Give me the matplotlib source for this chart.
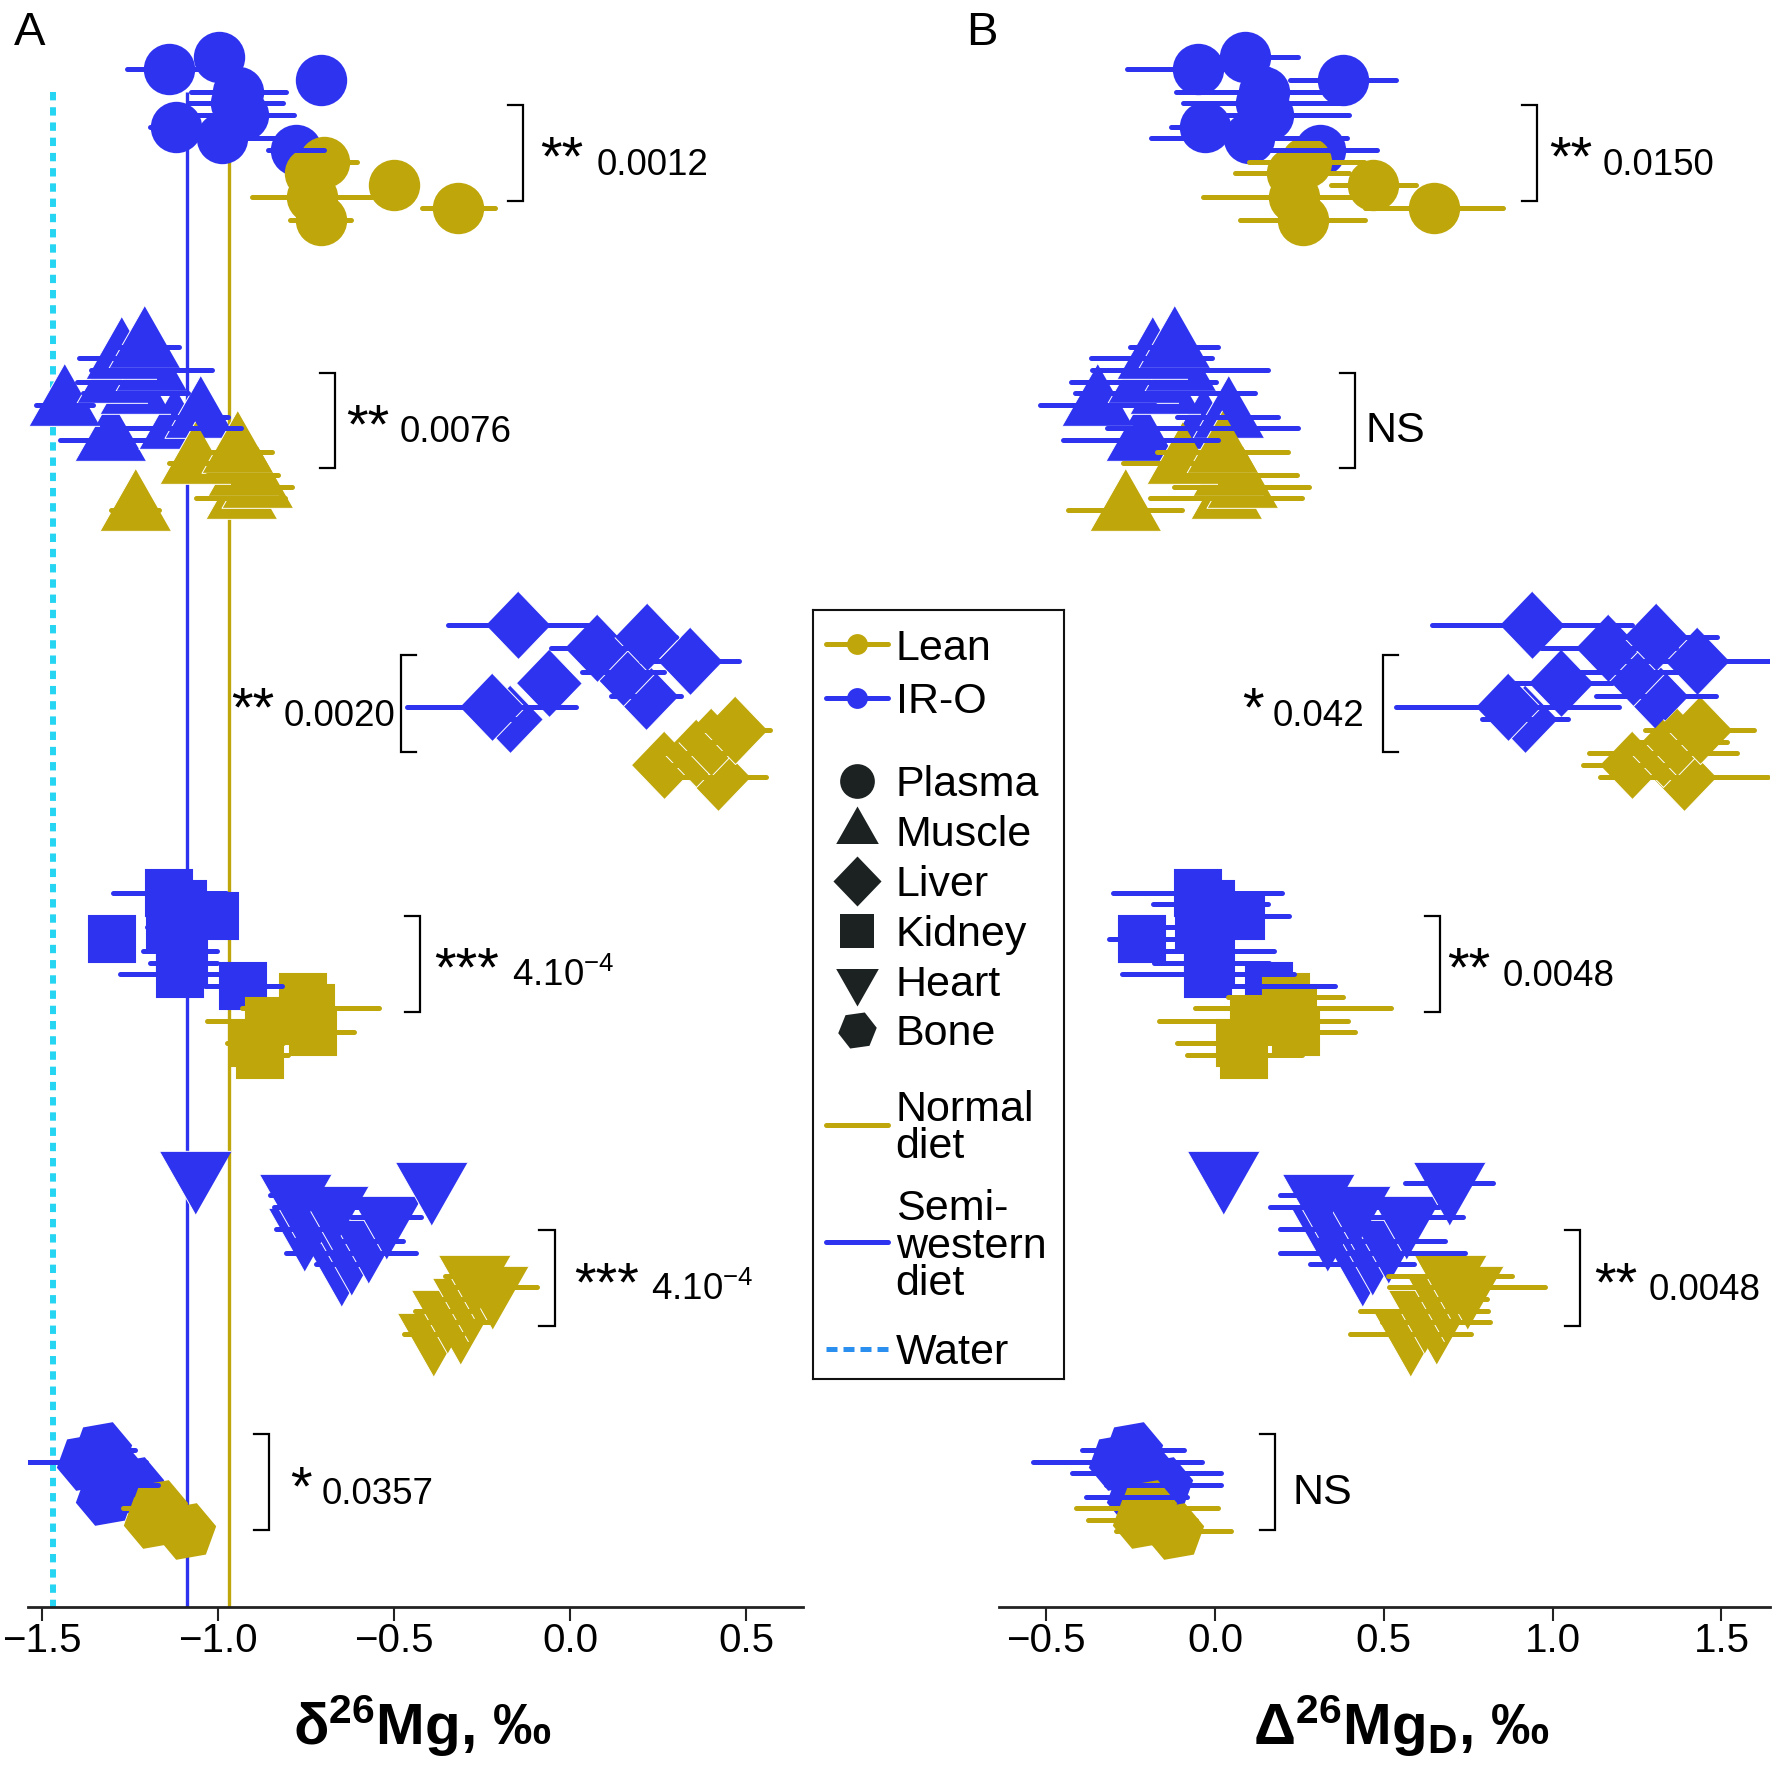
import matplotlib
matplotlib.use('Agg')
import matplotlib.pyplot as plt
from matplotlib.markers import MarkerStyle
from matplotlib.transforms import Affine2D

plt.rcParams['font.family'] = ['Liberation Sans', 'DejaVu Sans']
plt.rcParams['mathtext.fontset'] = 'custom'
plt.rcParams['mathtext.rm'] = 'Liberation Sans'
plt.rcParams['mathtext.bf'] = 'Liberation Sans:bold'
plt.rcParams['mathtext.it'] = 'Liberation Sans:italic'
plt.rcParams['mathtext.default'] = 'regular'

BLUE = '#2E33F0'
GOLD = '#BEA60B'
WATER = '#26D5F2'
WATER_LEG = '#2B8FF0'
DARK = '#1C2121'

# ---------------- data ----------------
semi_western_diet = -1.087   # delta26Mg of semi-western diet
normal_diet = -0.968         # delta26Mg of normal diet
water = -1.468               # delta26Mg of water

# y = row position of each animal (top to bottom)
plasma_iro_y = [57, 69, 80, 92, 103, 115, 127, 138, 150]
plasma_iro_d = [-0.998, -1.138, -0.708, -0.942, -0.950, -0.930, -1.119, -0.988, -0.778]
plasma_iro_de = [0.05, 0.121, 0.05, 0.134, 0.134, 0.147, 0.074, 0.15, 0.079]
plasma_iro_D = [0.089, -0.051, 0.379, 0.145, 0.137, 0.157, -0.030, 0.100, 0.311]
plasma_iro_De = [0.157, 0.21, 0.157, 0.26, 0.232, 0.24, 0.10, 0.29, 0.17]

plasma_lean_y = [162, 173, 185, 197, 208, 220]
plasma_lean_d = [-0.700, -0.740, -0.499, -0.733, -0.317, -0.708]
plasma_lean_de = [0.095, 0.06, 0.06, 0.17, 0.104, 0.087]
plasma_lean_D = [0.270, 0.228, 0.469, 0.235, 0.649, 0.260]
plasma_lean_De = [0.17, 0.17, 0.126, 0.27, 0.205, 0.185]

muscle_iro_y = [347, 358, 370, 382, 393, 405, 417, 428, 440]
muscle_iro_d = [-1.210, -1.275, -1.190, -1.300, -1.235, -1.437, -1.051, -1.126, -1.307]
muscle_iro_de = [0.10, 0.12, 0.172, 0.10, 0.15, 0.081, 0.08, 0.19, 0.142]
muscle_iro_D = [-0.121, -0.188, -0.104, -0.213, -0.148, -0.349, 0.037, -0.037, -0.220]
muscle_iro_De = [0.131, 0.178, 0.26, 0.215, 0.267, 0.17, 0.15, 0.284, 0.23]

muscle_lean_y = [452, 463, 475, 487, 498, 510]
muscle_lean_d = [-0.946, -1.065, -0.930, -0.889, -0.936, -1.235]
muscle_lean_de = [0.098, 0.074, 0.10, 0.10, 0.126, 0.068]
muscle_lean_D = [0.022, -0.097, 0.038, 0.079, 0.032, -0.267]
muscle_lean_De = [0.195, 0.176, 0.205, 0.20, 0.225, 0.168]

liver_iro_y = [625, 637, 648, 661, 672, 683, 696, 707, 719]
liver_iro_d = [-0.147, 0.220, 0.078, 0.341, 0.151, -0.059, 0.216, -0.222, -0.170]
liver_iro_de = [0.20, 0.08, 0.132, 0.14, 0.116, 0.08, 0.10, 0.24, 0.06]
liver_iro_D = [0.940, 1.307, 1.165, 1.427, 1.238, 1.026, 1.306, 0.867, 0.918]
liver_iro_De = [0.296, 0.18, 0.20, 0.22, 0.20, 0.15, 0.178, 0.33, 0.127]

liver_lean_y = [730, 742, 753, 765, 777]
liver_lean_d = [0.468, 0.400, 0.359, 0.267, 0.421]
liver_lean_de = [0.10, 0.08, 0.12, 0.08, 0.137]
liver_lean_D = [1.436, 1.368, 1.327, 1.235, 1.389]
liver_lean_De = [0.162, 0.15, 0.22, 0.146, 0.248]

kidney_iro_y = [893, 904, 916, 927, 939, 951, 963, 974, 986]
kidney_iro_d = [-1.138, -1.100, -1.009, -1.136, -1.302, -1.108, -1.098, -1.108, -0.928]
kidney_iro_de = [0.16, 0.08, 0.05, 0.066, 0.05, 0.104, 0.095, 0.17, 0.11]
kidney_iro_D = [-0.051, -0.013, 0.078, -0.049, -0.215, -0.021, -0.011, -0.021, 0.159]
kidney_iro_De = [0.25, 0.17, 0.14, 0.15, 0.10, 0.195, 0.17, 0.255, 0.195]

kidney_lean_y = [997, 1008, 1021, 1032, 1043, 1055]
kidney_lean_d = [-0.759, -0.737, -0.854, -0.729, -0.895, -0.881]
kidney_lean_de = [0.05, 0.195, 0.176, 0.114, 0.08, 0.08]
kidney_lean_D = [0.209, 0.231, 0.114, 0.239, 0.073, 0.087]
kidney_lean_De = [0.17, 0.29, 0.28, 0.175, 0.185, 0.17]

heart_iro_y = [1172, 1183, 1195, 1207, 1217, 1229, 1241, 1253, 1264]
heart_iro_d = [-1.064, -0.394, -0.782, -0.675, -0.522, -0.755, -0.575, -0.622, -0.652]
heart_iro_de = [0.03, 0.05, 0.07, 0.167, 0.10, 0.08, 0.10, 0.185, 0.07]
heart_iro_D = [0.023, 0.693, 0.305, 0.412, 0.565, 0.332, 0.512, 0.465, 0.435]
heart_iro_De = [0.046, 0.13, 0.114, 0.25, 0.17, 0.14, 0.17, 0.274, 0.153]

heart_lean_y = [1276, 1287, 1299, 1311, 1322, 1334]
heart_lean_d = [-0.272, -0.222, -0.290, -0.350, -0.312, -0.389]
heart_lean_de = [0.082, 0.128, 0.08, 0.09, 0.09, 0.084]
heart_lean_D = [0.696, 0.746, 0.678, 0.618, 0.656, 0.579]
heart_lean_De = [0.185, 0.23, 0.128, 0.19, 0.16, 0.18]

bone_iro_y = [1450, 1462, 1473, 1485, 1497]
bone_iro_d = [-1.330, -1.375, -1.290, -1.240, -1.320]
bone_iro_de = [0.095, 0.17, 0.08, 0.07, 0.06]
bone_iro_D = [-0.243, -0.288, -0.203, -0.153, -0.233]
bone_iro_De = [0.15, 0.25, 0.22, 0.17, 0.15]

bone_lean_y = [1508, 1520, 1531]
bone_lean_d = [-1.170, -1.185, -1.090]
bone_lean_de = [0.10, 0.06, 0.05]
bone_lean_D = [-0.202, -0.217, -0.122]
bone_lean_De = [0.21, 0.16, 0.17]

tissues = ['Plasma', 'Muscle', 'Liver', 'Kidney', 'Heart', 'Bone']
groups = ['Lean', 'IR-O']

# significance labels (stars, p-value)
sig_A = [('**', '0.0012'), ('**', '0.0076'), ('**', '0.0020'),
         ('***', '4.10$^{-4}$'), ('***', '4.10$^{-4}$'), ('*', '0.0357')]
sig_B = [('**', '0.0150'), ('NS', ''), ('*', '0.042'),
         ('**', '0.0048'), ('**', '0.0048'), ('NS', '')]

# ---------------- markers ----------------
h = 0.88
tri_up = MarkerStyle([(0, 2 * h / 3), (-0.5, -h / 3), (0.5, -h / 3)])
tri_dn = MarkerStyle([(0, -2 * h / 3), (-0.5, h / 3), (0.5, h / 3)])
diamond = MarkerStyle([(0, 0.52), (0.5, 0), (0, -0.52), (-0.5, 0)])
hexa = MarkerStyle('H', transform=Affine2D().rotate_deg(10))

mk = {
    'Plasma': dict(marker='o', ms=37, mew=0, edge=None),
    'Muscle': dict(marker=tri_up, ms=60, mew=0.7, edge='white'),
    'Liver': dict(marker=diamond, ms=49, mew=0.7, edge='white'),
    'Kidney': dict(marker='s', ms=33, mew=1.5, edge='same'),
    'Heart': dict(marker=tri_dn, ms=61, mew=0.7, edge='white'),
    'Bone': dict(marker=hexa, ms=42, mew=1.2, edge='same'),
}

data = {
    'Plasma': {'IR-O': (plasma_iro_y, plasma_iro_d, plasma_iro_de, plasma_iro_D, plasma_iro_De),
               'Lean': (plasma_lean_y, plasma_lean_d, plasma_lean_de, plasma_lean_D, plasma_lean_De)},
    'Muscle': {'IR-O': (muscle_iro_y, muscle_iro_d, muscle_iro_de, muscle_iro_D, muscle_iro_De),
               'Lean': (muscle_lean_y, muscle_lean_d, muscle_lean_de, muscle_lean_D, muscle_lean_De)},
    'Liver': {'IR-O': (liver_iro_y, liver_iro_d, liver_iro_de, liver_iro_D, liver_iro_De),
              'Lean': (liver_lean_y, liver_lean_d, liver_lean_de, liver_lean_D, liver_lean_De)},
    'Kidney': {'IR-O': (kidney_iro_y, kidney_iro_d, kidney_iro_de, kidney_iro_D, kidney_iro_De),
               'Lean': (kidney_lean_y, kidney_lean_d, kidney_lean_de, kidney_lean_D, kidney_lean_De)},
    'Heart': {'IR-O': (heart_iro_y, heart_iro_d, heart_iro_de, heart_iro_D, heart_iro_De),
              'Lean': (heart_lean_y, heart_lean_d, heart_lean_de, heart_lean_D, heart_lean_De)},
    'Bone': {'IR-O': (bone_iro_y, bone_iro_d, bone_iro_de, bone_iro_D, bone_iro_De),
             'Lean': (bone_lean_y, bone_lean_d, bone_lean_de, bone_lean_D, bone_lean_De)},
}
gcol = {'IR-O': BLUE, 'Lean': GOLD}

# ---------------- figure ----------------
W, H = 1773, 1782
fig = plt.figure(figsize=(W / 100, H / 100), dpi=100)
Y_BOT = 1607

def fax(x0, x1, y0, y1):
    return [x0 / W, 1 - y1 / H, (x1 - x0) / W, (y1 - y0) / H]

axA = fig.add_axes(fax(28.3, 803, 0, Y_BOT))
axB = fig.add_axes(fax(999, 1770, 0, Y_BOT))
axA.set_xlim(-1.539, 0.662)
axB.set_xlim(-0.640, 1.644)

for ax in (axA, axB):
    ax.set_ylim(Y_BOT, 0)
    for s in ('left', 'top', 'right'):
        ax.spines[s].set_visible(False)
    ax.spines['bottom'].set_linewidth(2.0)
    ax.spines['bottom'].set_color('#222222')
    ax.set_yticks([])
    ax.tick_params(axis='x', length=10, width=1.5, labelsize=29, pad=1, color='#222222')
    ax.patch.set_alpha(0)

axA.set_xticks([-1.5, -1.0, -0.5, 0.0, 0.5])
axA.set_xticklabels(['\u22121.5', '\u22121.0', '\u22120.5', '0.0', '0.5'])
axB.set_xticks([-0.5, 0.0, 0.5, 1.0, 1.5])
axB.set_xticklabels(['\u22120.5', '0.0', '0.5', '1.0', '1.5'])

# reference lines (panel A)
axA.vlines(water, 92, Y_BOT, color=WATER, lw=4.3, linestyles=(0, (1.4, 1.15)), zorder=1)
axA.vlines(semi_western_diet, 92, Y_BOT + 4, color=BLUE, lw=2.4, zorder=1)
axA.vlines(normal_diet, 92, Y_BOT + 4, color=GOLD, lw=2.4, zorder=1)

def draw_markers(ax, xs, ys, tissue, col, z):
    m = mk[tissue]
    ec = col if m['edge'] in (None, 'same') else m['edge']
    ax.plot(xs[::-1], ys[::-1], ls='none', marker=m['marker'], ms=m['ms'],
            mfc=col, mec=ec, mew=m['mew'], zorder=z,
            solid_joinstyle='round')

def draw_bars(ax, xs, ys, errs, col):
    c = ax.errorbar(xs, ys, xerr=errs, fmt='none', ecolor=col, elinewidth=3.6,
                    capsize=0, zorder=4)
    for lc in c.lines[2]:
        lc.set_capstyle('round')

for tissue in tissues:
    for g, z in (('IR-O', 2), ('Lean', 3)):
        y, d, de, D, De = data[tissue][g]
        draw_markers(axA, d, y, tissue, gcol[g], z)
        draw_markers(axB, D, y, tissue, gcol[g], z)
for tissue in tissues:
    for g in ('IR-O', 'Lean'):
        y, d, de, D, De = data[tissue][g]
        draw_bars(axA, d, y, de, gcol[g])
        draw_bars(axB, D, y, De, gcol[g])

# ---------------- brackets / significance ----------------
# (bracket x, y0, y1, tick side, stars x, value x)
br_A = [(-0.134, 104.6, 201.2, -1, -0.085, 0.076),
        (-0.667, 372.8, 468.2, -1, -0.635, -0.483),
        (-0.480, 654.6, 752.4, 1, -0.964, -0.8125),
        (-0.425, 916.0, 1011.5, -1, -0.386, -0.166),
        (-0.044, 1229.7, 1326.3, -1, 0.011, 0.230),
        (-0.854, 1434.3, 1529.7, -1, -0.796, -0.706)]
br_B = [(0.953, 104.6, 201.2, -1, 0.99, 1.148),
        (0.414, 372.8, 468.2, -1, 0.447, None),
        (0.498, 654.6, 752.4, 1, 0.080, 0.172),
        (0.667, 916.0, 1011.5, -1, 0.687, 0.852),
        (1.080, 1229.7, 1326.3, -1, 1.124, 1.283),
        (0.178, 1434.3, 1529.7, -1, 0.229, None)]

def draw_sig(ax, brs, sigs, tick):
    for (x, y0, y1, side, xs, xv), (st, val) in zip(brs, sigs):
        ax.plot([x + side * tick, x, x, x + side * tick], [y0, y0, y1, y1],
                color='black', lw=1.6, solid_joinstyle='miter', zorder=5)
        base = (y0 + y1) / 2 + 22
        if st == 'NS':
            ax.text(xs, base, 'NS', fontsize=31, va='baseline', ha='left')
        else:
            ax.text(xs, base, st, fontsize=40, va='baseline', ha='left')
            ax.text(xv, base, val, fontsize=26.5, va='baseline', ha='left')

draw_sig(axA, br_A, sig_A, 0.043)
draw_sig(axB, br_B, sig_B, 0.044)

# panel letters and axis titles
fig.text(14 / W, 1 - 45 / H, 'A', fontsize=34, va='baseline', ha='left')
fig.text(966 / W, 1 - 45 / H, 'B', fontsize=34, va='baseline', ha='left')
fig.text(422 / W, 1 - 1745 / H, r'δ$\mathbf{^{26}}$Mg, ‰', fontsize=42,
         fontweight='bold', va='baseline', ha='center')
fig.text(1401 / W, 1 - 1745 / H, r'Δ$\mathbf{^{26}}$Mg$\mathbf{_{D}}$, ‰', fontsize=42,
         fontweight='bold', va='baseline', ha='center')

# ---------------- legend ----------------
LX0, LX1, LY0, LY1 = 812.6, 1063.8, 610.3, 1378.6
lg = fig.add_axes(fax(LX0, LX1, LY0, LY1))
lg.set_xlim(LX0, LX1)
lg.set_ylim(LY1, LY0)
lg.set_xticks([])
lg.set_yticks([])
for s in lg.spines.values():
    s.set_linewidth(1.5)
    s.set_color('#111111')

TX = 895.6
FS = 31
OFF = 15.4

def ltext(y, s):
    lg.text(TX, y + OFF, s, fontsize=FS, va='baseline', ha='left')

for g, y in (('Lean', 644.4), ('IR-O', 697.8)):
    lg.plot([826, 888], [y, y], color=gcol[g], lw=3.6, solid_capstyle='round')
    lg.plot([857], [y], marker='o', ms=15, color=gcol[g], mew=0)
    ltext(y, g)

leg_mk = {'Plasma': ('o', 25), 'Muscle': (tri_up, 36), 'Liver': (diamond, 36),
          'Kidney': ('s', 25), 'Heart': (tri_dn, 36), 'Bone': (MarkerStyle('H', transform=Affine2D().rotate_deg(8)), 28)}
for t, y in zip(tissues, [780.8, 830.8, 880.8, 930.8, 980.8, 1029.7]):
    m, s = leg_mk[t]
    lg.plot([857], [y], marker=m, ms=s, color=DARK, mew=0)
    ltext(y, t)

lg.plot([826, 888], [1125.2, 1125.2], color=GOLD, lw=3.6, solid_capstyle='round')
ltext(1105.8, 'Normal')
ltext(1142.2, 'diet')
lg.plot([826, 888], [1242.2, 1242.2], color=BLUE, lw=3.6, solid_capstyle='round')
ltext(1204.7, 'Semi-')
ltext(1242.2, 'western')
ltext(1279.7, 'diet')
lg.plot([826, 888], [1349, 1349], color=WATER_LEG, lw=3.6, ls=(0, (2.2, 1.2)))
ltext(1349, 'Water')

fig.savefig('out.png', dpi=100)
